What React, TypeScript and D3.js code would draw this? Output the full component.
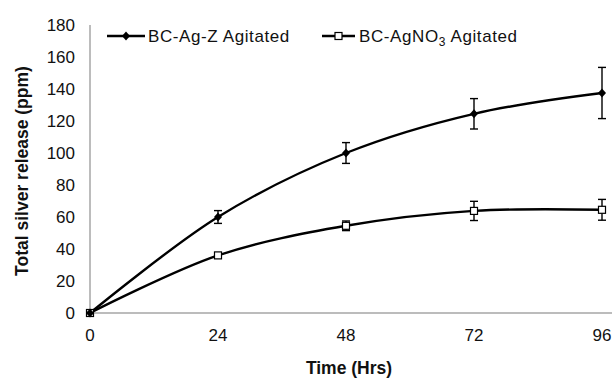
import React from "react";
import * as d3 from "d3";

const times = [0, 24, 48, 72, 96];
const agZ = [0, 60, 100, 124.5, 137.5];
const agZErr = [0, 4, 6.5, 9.5, 16];
const agNO3 = [0, 36, 54.5, 63.8, 64.5];
const agNO3Err = [0, 1.5, 3, 6, 6.5];
const yTicks = [0, 20, 40, 60, 80, 100, 120, 140, 160, 180];
const xTicks = [0, 24, 48, 72, 96];

const W = 612, H = 378;
const FONT = "'Liberation Sans', Arial, sans-serif";
const FS = 17;

export default function App() {
  const x = d3.scaleLinear().domain([0, 96]).range([90, 602]);
  const y = d3.scaleLinear().domain([0, 180]).range([313, 25]);
  const line = d3
    .line<number>()
    .x((_, i) => x(times[i]))
    .y((d) => y(d))
    .curve(d3.curveCatmullRom.alpha(0.5));

  const errBars = (vals: number[], errs: number[], key: string) =>
    vals.map((v, i) =>
      errs[i] > 0 ? (
        <g key={key + i} stroke="#000" strokeWidth={1.4}>
          <line x1={x(times[i])} x2={x(times[i])} y1={y(v + errs[i])} y2={y(v - errs[i])} />
          <line x1={x(times[i]) - 4} x2={x(times[i]) + 4} y1={y(v + errs[i])} y2={y(v + errs[i])} />
          <line x1={x(times[i]) - 4} x2={x(times[i]) + 4} y1={y(v - errs[i])} y2={y(v - errs[i])} />
        </g>
      ) : null
    );

  const diamond = (cx: number, cy: number, k: string) => (
    <path key={k} d={`M${cx},${cy - 4.5}L${cx + 4},${cy}L${cx},${cy + 4.5}L${cx - 4},${cy}Z`} fill="#000" />
  );
  const square = (cx: number, cy: number, k: string) => (
    <rect key={k} x={cx - 3.5} y={cy - 3.5} width={7} height={7} fill="#fff" stroke="#000" strokeWidth={1.2} />
  );

  return (
    <svg width={W} height={H} style={{ position: "absolute", left: 0, top: 0, background: "#fff" }} fontFamily={FONT}>
      <rect width={W} height={H} fill="#fff" />
      {/* axes */}
      <line x1={90} x2={90} y1={25} y2={313} stroke="#a6a6a6" strokeWidth={1.5} />
      <line x1={90} x2={612} y1={313} y2={313} stroke="#a6a6a6" strokeWidth={1.5} />
      {yTicks.map((t) => (
        <text key={"y" + t} x={75} y={y(t)} dy="0.35em" textAnchor="end" fontSize={FS} fill="#111">
          {t}
        </text>
      ))}
      {xTicks.map((t) => (
        <text key={"x" + t} x={x(t)} y={341} textAnchor="middle" fontSize={FS} fill="#111">
          {t}
        </text>
      ))}
      <text x={349} y={374} textAnchor="middle" fontSize={17.5} fontWeight="bold" fill="#111">
        Time (Hrs)
      </text>
      <text
        transform={`translate(28,171) rotate(-90)`}
        textAnchor="middle"
        fontSize={17.5}
        fontWeight="bold"
        fill="#111"
      >
        Total silver release (ppm)
      </text>
      {/* series */}
      <path d={line(agZ) || ""} fill="none" stroke="#000" strokeWidth={2.4} />
      <path d={line(agNO3) || ""} fill="none" stroke="#000" strokeWidth={2.4} />
      {errBars(agZ, agZErr, "ez")}
      {errBars(agNO3, agNO3Err, "en")}
      {agNO3.map((v, i) => square(x(times[i]), y(v), "s" + i))}
      {agZ.map((v, i) => diamond(x(times[i]), y(v), "d" + i))}
      {/* legend */}
      <line x1={107} x2={145} y1={36} y2={36} stroke="#000" strokeWidth={2.4} />
      {diamond(126, 36, "ld")}
      <text x={148} y={36} dy="0.35em" fontSize={FS} letterSpacing={0.6} fill="#111">
        BC-Ag-Z Agitated
      </text>
      <line x1={322} x2={355} y1={36} y2={36} stroke="#000" strokeWidth={2.4} />
      {square(338.5, 36, "ls")}
      <text x={359} y={36} dy="0.35em" fontSize={FS} letterSpacing={0.6} fill="#111">
        BC-AgNO<tspan dy="4" fontSize={12}>3</tspan>
        <tspan dy="-4"> Agitated</tspan>
      </text>
    </svg>
  );
}
